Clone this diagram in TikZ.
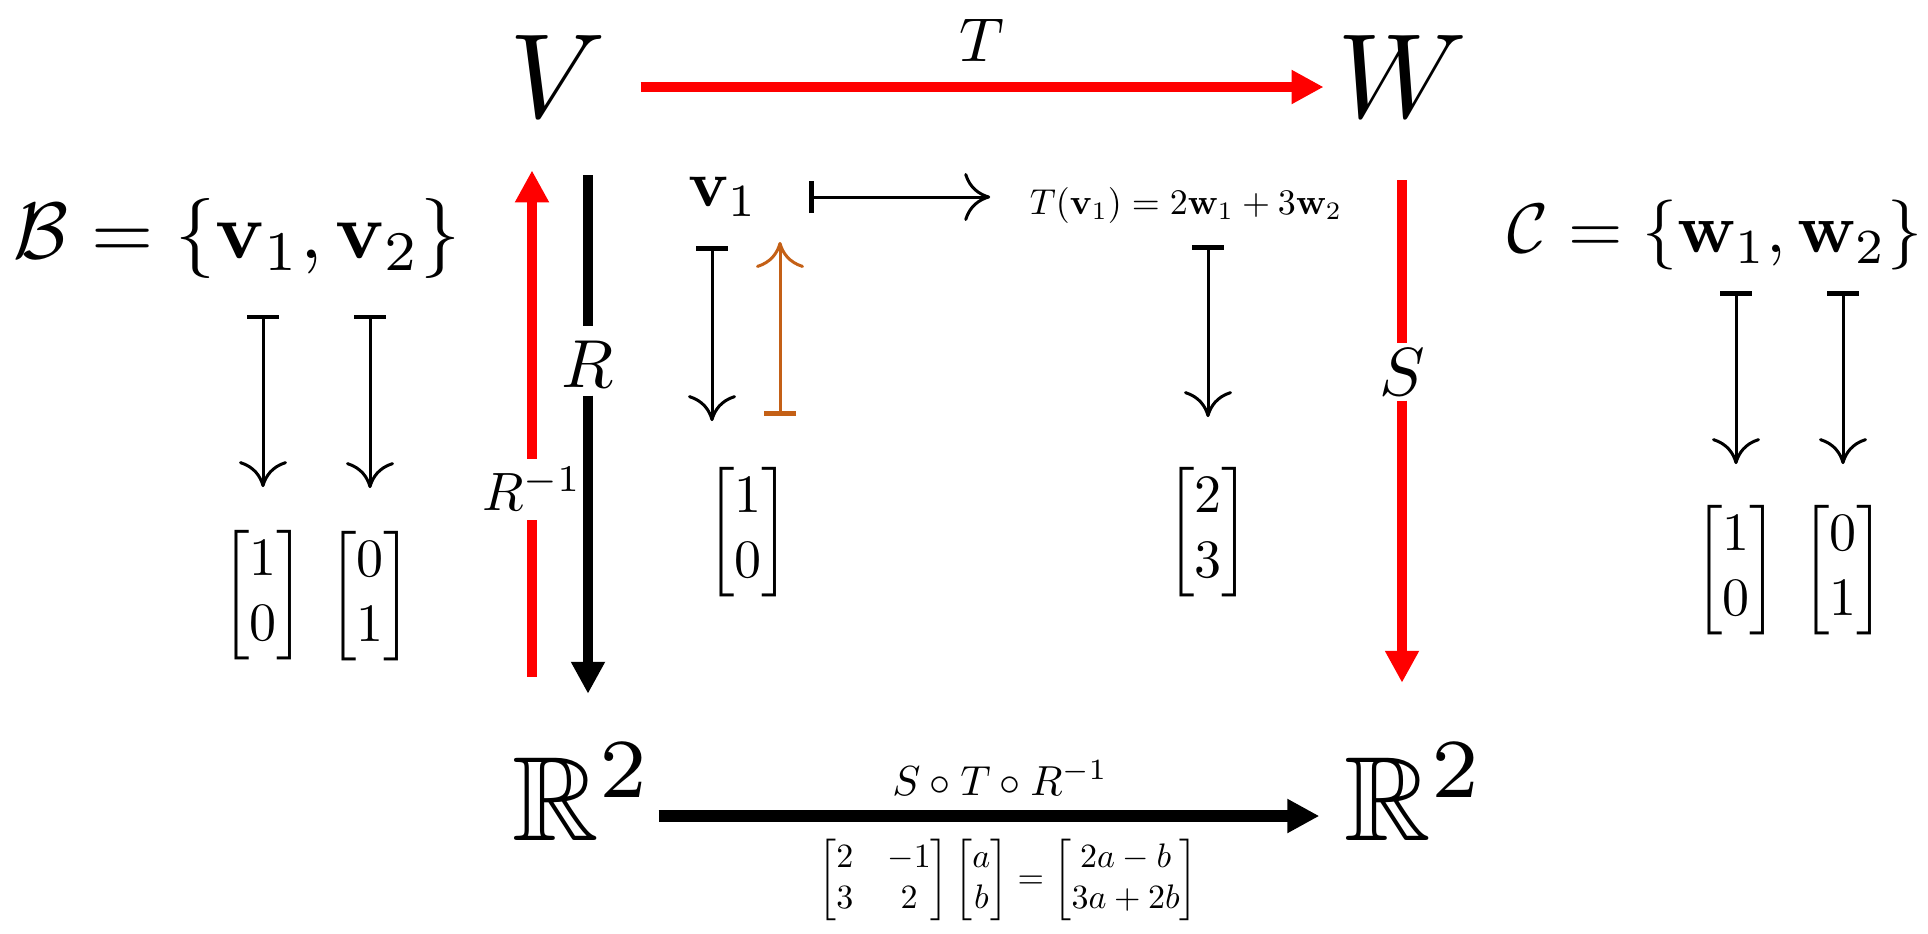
\documentclass[tikz,border=0pt]{standalone}
\usepackage{amsmath,amssymb}
\usetikzlibrary{arrows.meta}
\definecolor{mapred}{RGB}{255,0,0}
\definecolor{invorange}{RGB}{196,96,22}

\begin{document}
\begin{tikzpicture}[x=.25pt,y=-.25pt,every node/.style={inner sep=0pt},
 big arrow/.style={line width=2.5pt,-{Triangle[length=8pt,width=8pt]}},
 maps to/.style={line width=.75pt,{Bar[width=8pt,line width=1.2pt]}-{To[length=6.5pt,width=12pt]}}]
\useasboundingbox (0,0) rectangle (1928,933);
\node (V) at (558,76) [scale=3] {$V$};
\node (W) at (1402,76) [scale=3] {$W$};
\node (RL) at (583,792) [scale=3] {$\mathbb{R}^2$};
\node (RR) at (1415,792) [scale=3] {$\mathbb{R}^2$};
\node (lblT) at (982,40) [scale=1.55] {$T$};
\node (lblR) at (588,364) [scale=1.7] {$R$};
\node (lblRinv) at (532,489) [scale=1.35] {$R^{-1}$};
\node (lblS) at (1402,372) [scale=1.7] {$S$};
\node (lblSTR) at (1000,778) [scale=1.05] {$S\circ T\circ R^{-1}$};
\node (eqn) at (1008,880) [scale=.85]
 {$\begin{bmatrix}2&-1\\3&2\end{bmatrix}\begin{bmatrix}a\\b\end{bmatrix}=\begin{bmatrix}2a-b\\3a+2b\end{bmatrix}$};
\draw[big arrow,mapred,shorten <=8pt,shorten >=2.75pt] ([yshift=-2.75pt]V.east) -- ([yshift=-2.75pt]W.west);
\draw[big arrow,line width=3pt,shorten <=.75pt,shorten >=5.75pt] ([yshift=-6pt]RL.east) -- ([yshift=-6pt]RR.west);
\draw[mapred,line width=2.5pt,shorten <=16pt,shorten >=2pt] (RL.north -| lblRinv) -- (lblRinv.south);
\draw[big arrow,mapred,shorten <=1.75pt,shorten >=12.75pt] (lblRinv.north) -- (V.south -| lblRinv);
\draw[line width=2.5pt,shorten <=14pt,shorten >=3.25pt] (V.south -| lblR) -- (lblR.north);
\draw[big arrow,shorten <=1.75pt,shorten >=11.75pt] (lblR.south) -- (RL.north -| lblR);
\draw[mapred,line width=2.5pt,shorten <=15.25pt,shorten >=1pt] (W.south -| lblS) -- (lblS.north);
\draw[big arrow,mapred,shorten <=1pt,shorten >=14.5pt] (lblS.south) -- (RR.north -| lblS);
\node (v1) at (723,197) [scale=1.65] {$\mathbf{v}_1$};
\node (Tv) at (1186,205) [scale=.9] {$T(\mathbf{v}_1) = 2\mathbf{w}_1 + 3\mathbf{w}_2$};
\node (e10) at (748,532) [scale=1.35] {$\begin{bmatrix}1\\0\end{bmatrix}$};
\node (e23) at (1208,532) [scale=1.35] {$\begin{bmatrix}2\\3\end{bmatrix}$};
\draw[maps to,shorten <=12.5pt,shorten >=9.75pt] (v1.east) -- (v1.east -| Tv.west);
\draw[maps to,shorten <=7pt,shorten >=11.25pt] ([xshift=-2.75pt]v1.south) -- ([xshift=-2.75pt]v1.south |- e10.north);
\draw[maps to,invorange,shorten <=12.5pt,shorten >=6pt] ([xshift=8pt]e10.north) -- ([xshift=8pt]e10.north |- v1.south);
\draw[maps to,shorten <=5.25pt,shorten >=12.25pt] (e23.north |- Tv.south) -- (e23.north);
\node (Bset) at (237,238) [scale=2] {$\mathcal{B} = \{\mathbf{v}_1, \mathbf{v}_2\}$};
\node (b1) at (263,595) [scale=1.35] {$\begin{bmatrix}1\\0\end{bmatrix}$};
\node (b2) at (370,596) [scale=1.35] {$\begin{bmatrix}0\\1\end{bmatrix}$};
\draw[maps to,shorten <=8.75pt,shorten >=10.5pt] (b1.north |- Bset.south) -- (b1.north);
\draw[maps to,shorten <=8.75pt,shorten >=10.5pt] (b2.north |- Bset.south) -- (b2.north);
\node (Cset) at (1715,235) [scale=1.75] {$\mathcal{C} = \{\mathbf{w}_1, \mathbf{w}_2\}$};
\node (c1) at (1736,570) [scale=1.35] {$\begin{bmatrix}1\\0\end{bmatrix}$};
\node (c2) at (1843,570) [scale=1.35] {$\begin{bmatrix}0\\1\end{bmatrix}$};
\draw[maps to,shorten <=5pt,shorten >=10pt] (c1.north |- Cset.south) -- (c1.north);
\draw[maps to,shorten <=5pt,shorten >=10pt] (c2.north |- Cset.south) -- (c2.north);
\end{tikzpicture}
\end{document}
